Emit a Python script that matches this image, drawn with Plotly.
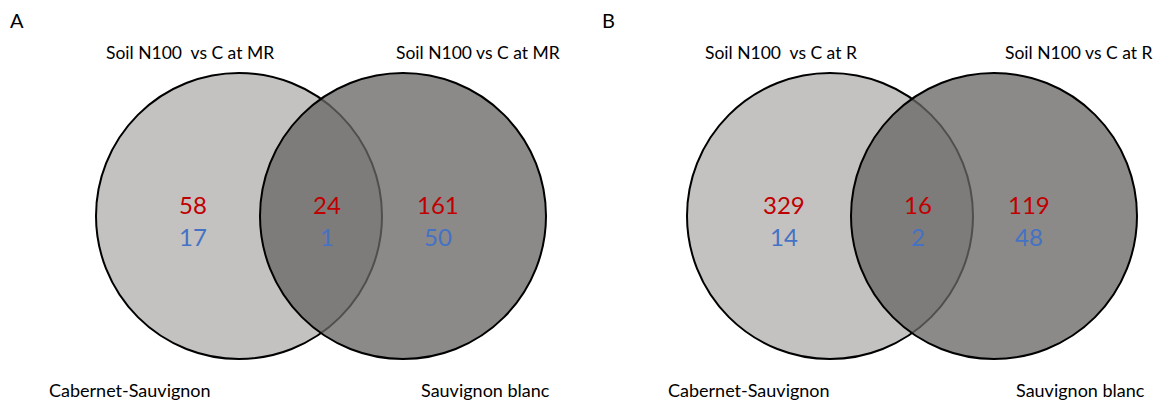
import plotly.graph_objects as go

# Venn counts per panel: [left only, overlap, right only]
panels = ["A", "B"]
up_counts = [[58, 24, 161], [329, 16, 119]]     # red
down_counts = [[17, 1, 50], [14, 2, 48]]        # blue
set_titles = [["Soil N100  vs C at MR", "Soil N100 vs C at MR"],
              ["Soil N100  vs C at R", "Soil N100 vs C at R"]]
set_names = ["Cabernet-Sauvignon", "Sauvignon blanc"]

W, H = 1159, 406
FONT = "Lato"
R = 143
cy = 216
left_cx = [239, 830]
gap = 164
# label centres (x) per panel: left title, right title, left name, right name
title_x = [[190, 478], [781, 1078]]
name_x = [[130, 485], [749, 1080]]

fig = go.Figure()
shapes = []
ann = []

for i, p in enumerate(panels):
    lx = left_cx[i]
    rx = lx + gap
    shapes.append(dict(type="circle", xref="x", yref="y",
                       x0=lx - R, x1=lx + R, y0=cy - R, y1=cy + R,
                       fillcolor="#c3c2c1", line=dict(color="black", width=2)))
    shapes.append(dict(type="circle", xref="x", yref="y",
                       x0=rx - R, x1=rx + R, y0=cy - R, y1=cy + R,
                       fillcolor="rgba(106,102,101,0.77)", line=dict(color="black", width=2)))

    # panel letter
    ann.append(dict(x=lx - 222, y=20, text=p, showarrow=False,
                    font=dict(size=20, color="black", family=FONT)))
    # set titles
    for x, t in zip(title_x[i], set_titles[i]):
        ann.append(dict(x=x, y=52, text=t, showarrow=False,
                        font=dict(size=17.5, color="black", family=FONT)))
    # set names
    for x, t in zip(name_x[i], set_names):
        ann.append(dict(x=x, y=390, text=t, showarrow=False,
                        font=dict(size=18, color="black", family=FONT)))

    # region counts
    xs = [lx - 46, (lx + rx) / 2 + 6, rx + 35]
    for x, u, d in zip(xs, up_counts[i], down_counts[i]):
        ann.append(dict(x=x, y=204, text=str(u), showarrow=False,
                        font=dict(size=24, color="#c00000", family=FONT)))
        ann.append(dict(x=x, y=236, text=str(d), showarrow=False,
                        font=dict(size=24, color="#4472c4", family=FONT)))

fig.update_layout(
    width=W, height=H,
    margin=dict(l=0, r=0, t=0, b=0),
    paper_bgcolor="white", plot_bgcolor="white",
    xaxis=dict(range=[0, W], visible=False, fixedrange=True),
    yaxis=dict(range=[H, 0], visible=False, fixedrange=True),
    shapes=shapes, annotations=ann, showlegend=False,
)

fig.write_html("out.html", config={"displayModeBar": False},
               post_script="document.body.style.margin='0';")
